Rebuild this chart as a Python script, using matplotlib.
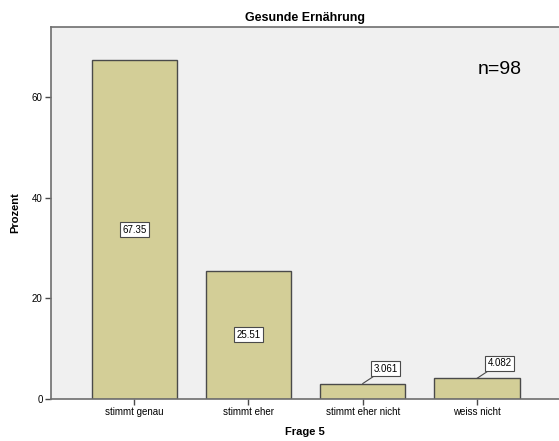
import matplotlib.pyplot as plt

categories = ["stimmt genau", "stimmt eher", "stimmt eher nicht", "weiss nicht"]
percent = [67.35, 25.51, 3.061, 4.082]
labels = ["67.35", "25.51", "3.061", "4.082"]
yticks = [0, 20, 40, 60]

plt.rcParams["font.family"] = ["Liberation Sans", "DejaVu Sans"]

fig = plt.figure(figsize=(5.59, 4.41), dpi=100)
ax = fig.add_axes([51 / 559, 1 - 399 / 441, 508 / 559, 372 / 441])
ax.set_facecolor("#F0F0F0")

x = range(len(categories))
bars = ax.bar(x, percent, width=0.75, color="#D3CE97", edgecolor="#4a4a4a", linewidth=1.0, zorder=2)

ax.set_xlim(-0.73, 3.72)
ax.set_ylim(0, 74)
ax.set_xticks(list(x))
ax.set_xticklabels(categories, fontsize=7)
ax.set_yticks(yticks)
ax.set_yticklabels([str(t) for t in yticks], fontsize=7)
ax.tick_params(length=4, width=1, color="#4a4a4a", pad=2)

for s in ["left", "top", "bottom"]:
    ax.spines[s].set_color("#6e6e6e")
    ax.spines[s].set_linewidth(1.2)
ax.spines["right"].set_visible(False)

# value boxes: inside tall bars, outside with a leader line for short ones
box = dict(boxstyle="square,pad=0.25", fc="white", ec="#4a4a4a", lw=0.8)
for i, (v, lab) in enumerate(zip(percent, labels)):
    if v > 10:
        ax.text(i, v / 2, lab, ha="center", va="center", fontsize=7, bbox=box, zorder=3)
    else:
        ax.annotate(lab, xy=(i, v), xytext=(i + 0.2, v + 3.0), ha="center", va="center",
                    fontsize=7, bbox=box, zorder=3,
                    arrowprops=dict(arrowstyle="-", color="#4a4a4a", lw=0.8, shrinkA=0, shrinkB=0))

ax.text(3.2, 65.5, "n=98", fontsize=14, ha="center", va="center")

ax.set_title("Gesunde Ernährung", fontsize=9, fontweight="bold", pad=4)
ax.set_xlabel("Frage 5", fontsize=8, fontweight="bold", labelpad=7)
ax.set_ylabel("Prozent", fontsize=8, fontweight="bold", labelpad=8)

plt.savefig("out.png", dpi=100)
